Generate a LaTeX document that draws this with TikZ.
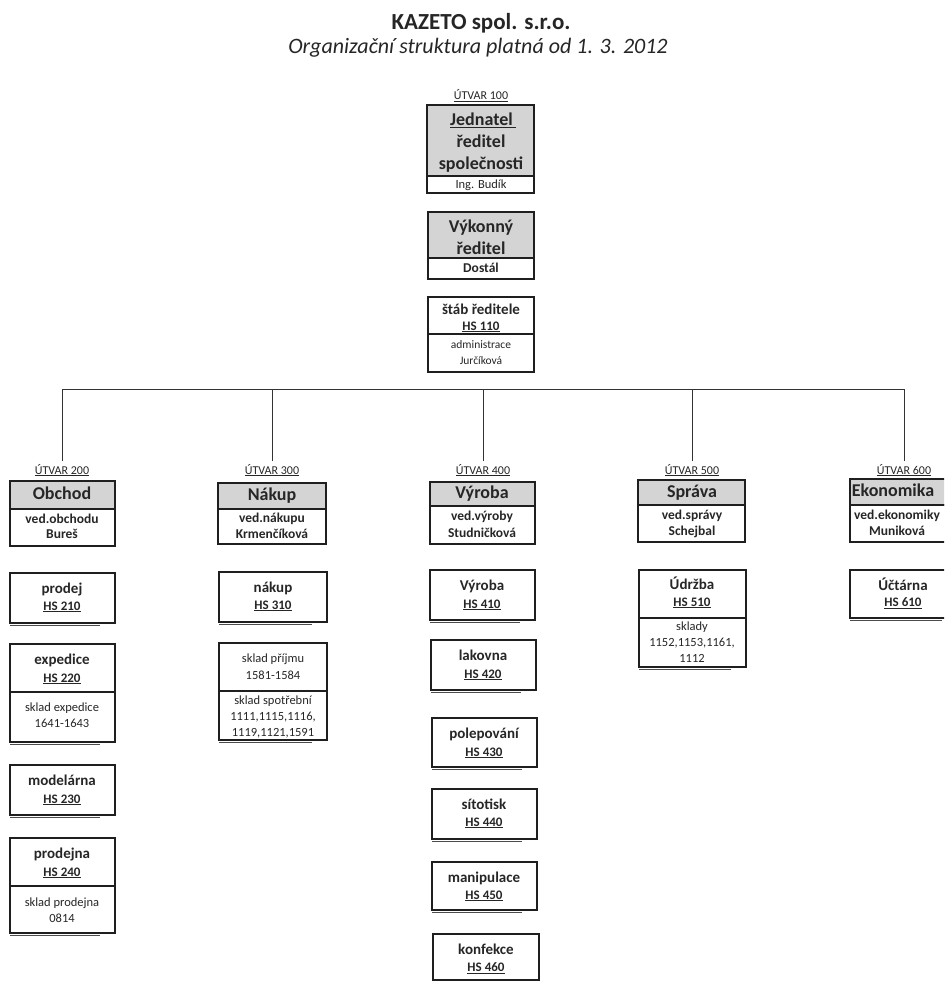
\documentclass[tikz,border=0pt]{standalone}
\usepackage{fontspec}
\setmainfont{Carlito}
\usetikzlibrary{calc}
\begin{document}
\begin{tikzpicture}[x=1pt,y=-1pt,
  bx/.style={draw=black!88, line width=1.3pt, inner sep=0pt, outer sep=0pt},
  hd/.style={bx, fill=black!17},
  tx/.style={inner sep=0pt, outer sep=0pt, align=center, text=black!85},
  hdf/.style={tx, font=\bfseries\fontsize{18}{20}\selectfont, text height=13pt, text depth=4pt},
  nm/.style={tx, font=\bfseries\fontsize{15}{17}\selectfont, text height=11pt, text depth=3.4pt},
  hs/.style={tx, font=\bfseries\fontsize{13}{15}\selectfont, text height=9.4pt, text depth=3pt},
  vd/.style={tx, font=\bfseries\fontsize{13.5}{15}\selectfont, text height=9.8pt, text depth=3pt},
  sk/.style={tx, font=\fontsize{12.5}{14}\selectfont, text height=9pt, text depth=2.8pt},
  sm/.style={tx, font=\fontsize{11.5}{13}\selectfont, text height=8.3pt, text depth=2.6pt},
  ut/.style={tx, font=\fontsize{12}{14}\selectfont, text height=8.7pt, text depth=2.7pt},
  ln/.style={line width=1pt, draw=black!80},
  dbl/.style={line width=0.7pt, draw=black!70}
]
\newcommand\Rect[6]{\node[#1, minimum width={(#5-#3)*1pt}, minimum height={(#6-#4)*1pt}] (#2) at ({(#3+#5)/2},{(#4+#6)/2}) {};}
\newcommand\Dbl[1]{\draw[dbl] ([yshift=-2.6pt]#1.south west) -- ([yshift=-2.6pt]$(#1.south west)!0.86!(#1.south east)$);}
\useasboundingbox (0,0) rectangle (944,981);
\clip (0,0) rectangle (944,981);

% title
\node[tx, font=\bfseries\fontsize{23}{25}\selectfont] (title) at (481,23) {KAZETO spol. s.r.o.};
\node[tx, font=\itshape\fontsize{22}{24}\selectfont] (subtitle) at (478,48) {Organizační struktura platná od 1. 3. 2012};

% centre column
\node[ut] (u100) at (481,97) {\underline{ÚTVAR 100}};
\Rect{hd}{j1h}{427}{105}{534}{176}
\Rect{bx}{j1b}{427}{176}{534}{193}
\node[hdf] (j1t1) at (483,121) {\underline{Jednatel\hspace{3pt}}};
\node[hdf] (j1t2) at (481,143) {ředitel};
\node[hdf] (j1t3) at (481,165) {společnosti};
\node[tx, font=\fontsize{12.5}{14}\selectfont, text height=9pt, text depth=2.8pt] (j1t4) at (481,185) {Ing. Budík};

\Rect{hd}{v1h}{428}{212}{534}{258}
\Rect{bx}{v1b}{428}{258}{534}{279}
\node[hdf] (v1t1) at (481,228) {Výkonný};
\node[hdf] (v1t2) at (481,250) {ředitel};
\node[vd] (v1t3) at (481,269) {Dostál};

\Rect{bx}{s1a}{428}{297}{534}{334}
\Rect{bx}{s1b}{428}{334}{534}{372}
\node[nm] (s1t1) at (481,311) {štáb ředitele};
\node[hs] (s1t2) at (481,327) {\underline{HS 110}};
\node[sm] (s1t3) at (481,346) {administrace};
\node[sm] (s1t4) at (481,362) {Jurčíková};

% bus
\coordinate (b2) at (62,389);
\coordinate (b3) at (272,389);
\coordinate (b4) at (483,389);
\coordinate (b5) at (692,389);
\coordinate (b6) at (904,389);
\draw[ln] (b2) -- (b6);

\node[ut] (u200) at (62,471) {\underline{ÚTVAR 200}};
\node[ut] (u300) at (272,471) {\underline{ÚTVAR 300}};
\node[ut] (u400) at (483,471) {\underline{ÚTVAR 400}};
\node[ut] (u500) at (692,471) {\underline{ÚTVAR 500}};
\node[ut] (u600) at (904,471) {\underline{ÚTVAR 600}};
\foreach \i in {2,3,4,5,6}{\draw[ln] (b\i) -- ([yshift=4pt]u\i00.north);}

% column 200
\Rect{hd}{o2h}{10}{481}{115}{509}
\Rect{bx}{o2b}{10}{509}{115}{546}
\node[hdf] (o2t1) at (62,495) {Obchod};
\node[vd] (o2t2) at (62,520) {ved.obchodu};
\node[vd] (o2t3) at (62,535) {Bureš};

\Rect{bx}{p210}{10}{573}{115}{623}\Dbl{p210}
\node[nm] (p210t1) at (62,590) {prodej};
\node[hs] (p210t2) at (62,607) {\underline{HS 210}};

\Rect{bx}{e220a}{10}{644}{115}{692}
\Rect{bx}{e220b}{10}{692}{115}{742}\Dbl{e220b}
\node[nm] (e220t1) at (62,661) {expedice};
\node[hs] (e220t2) at (62,679) {\underline{HS 220}};
\node[sk] (e220t3) at (62,708) {sklad expedice};
\node[sk] (e220t4) at (62,724) {1641-1643};

\Rect{bx}{m230}{10}{765}{115}{815}\Dbl{m230}
\node[nm] (m230t1) at (62,782) {modelárna};
\node[hs] (m230t2) at (62,800) {\underline{HS 230}};

\Rect{bx}{p240a}{10}{838}{115}{886}
\Rect{bx}{p240b}{10}{886}{115}{933}\Dbl{p240b}
\node[nm] (p240t1) at (62,855) {prodejna};
\node[hs] (p240t2) at (62,873) {\underline{HS 240}};
\node[sk] (p240t3) at (62,903) {sklad prodejna};
\node[sk] (p240t4) at (62,919) {0814};

% column 300
\Rect{hd}{n3h}{218}{483}{326}{509}
\Rect{bx}{n3b}{218}{509}{326}{544}
\node[hdf] (n3t1) at (272,496) {Nákup};
\node[vd] (n3t2) at (272,519) {ved.nákupu};
\node[vd] (n3t3) at (272,535) {Krmenčíková};

\Rect{bx}{n310}{219}{572}{327}{622}\Dbl{n310}
\node[nm] (n310t1) at (273,589) {nákup};
\node[hs] (n310t2) at (273,606) {\underline{HS 310}};

\Rect{bx}{s3a}{219}{643}{327}{691}
\Rect{bx}{s3b}{219}{691}{327}{740}\Dbl{s3b}
\node[sk] (s3t1) at (273,659) {sklad příjmu};
\node[sk] (s3t2) at (273,676) {1581-1584};
\node[sk] (s3t3) at (273,701) {sklad spotřební};
\node[sk] (s3t4) at (273,717) {1111,1115,1116,};
\node[sk] (s3t5) at (273,733) {1119,1121,1591};

% column 400
\Rect{hd}{y4h}{430}{482}{535}{506}
\Rect{bx}{y4b}{430}{506}{535}{544}
\node[hdf] (y4t1) at (482,494) {Výroba};
\node[vd] (y4t2) at (482,517) {ved.výroby};
\node[vd] (y4t3) at (482,534) {Studničková};

\Rect{bx}{h410}{430}{570}{535}{620}\Dbl{h410}
\node[nm] (h410t1) at (482,587) {Výroba};
\node[hs] (h410t2) at (482,605) {\underline{HS 410}};

\Rect{bx}{h420}{431}{640}{536}{690}\Dbl{h420}
\node[nm] (h420t1) at (483,657) {lakovna};
\node[hs] (h420t2) at (483,675) {\underline{HS 420}};

\Rect{bx}{h430}{432}{718}{537}{767}\Dbl{h430}
\node[nm] (h430t1) at (484,735) {polepování};
\node[hs] (h430t2) at (484,753) {\underline{HS 430}};

\Rect{bx}{h440}{432}{789}{537}{839}\Dbl{h440}
\node[nm] (h440t1) at (484,806) {sítotisk};
\node[hs] (h440t2) at (484,823) {\underline{HS 440}};

\Rect{bx}{h450}{432}{862}{537}{910}\Dbl{h450}
\node[nm] (h450t1) at (484,879) {manipulace};
\node[hs] (h450t2) at (484,896) {\underline{HS 450}};

\Rect{bx}{h460}{433}{934}{539}{980}
\node[nm] (h460t1) at (486,951) {konfekce};
\node[hs] (h460t2) at (486,968) {\underline{HS 460}};

% column 500
\Rect{hd}{s5h}{638}{480}{745}{505}
\Rect{bx}{s5b}{638}{505}{745}{542}
\node[hdf] (s5t1) at (692,493) {Správa};
\node[vd] (s5t2) at (692,516) {ved.správy};
\node[vd] (s5t3) at (692,532) {Schejbal};

\Rect{bx}{u510a}{639}{570}{746}{618}
\Rect{bx}{u510b}{639}{618}{746}{667}\Dbl{u510b}
\node[nm] (u510t1) at (692,586) {Údržba};
\node[hs] (u510t2) at (692,603) {\underline{HS 510}};
\node[sk] (u510t3) at (692,627) {sklady};
\node[sk] (u510t4) at (692,643) {1152,1153,1161,};
\node[sk] (u510t5) at (692,659) {1112};

% column 600
\Rect{hd}{e6h}{850}{479}{957}{505}
\Rect{bx}{e6b}{850}{505}{957}{542}
\node[hdf] (e6t1) at (893,492) {Ekonomika};
\node[vd] (e6t2) at (897,516) {ved.ekonomiky};
\node[vd] (e6t3) at (897,532) {Muniková};

\Rect{bx}{u610}{850}{570}{957}{618}\Dbl{u610}
\node[nm] (u610t1) at (903,587) {Účtárna};
\node[hs] (u610t2) at (903,603) {\underline{HS 610}};
\end{tikzpicture}
\end{document}
